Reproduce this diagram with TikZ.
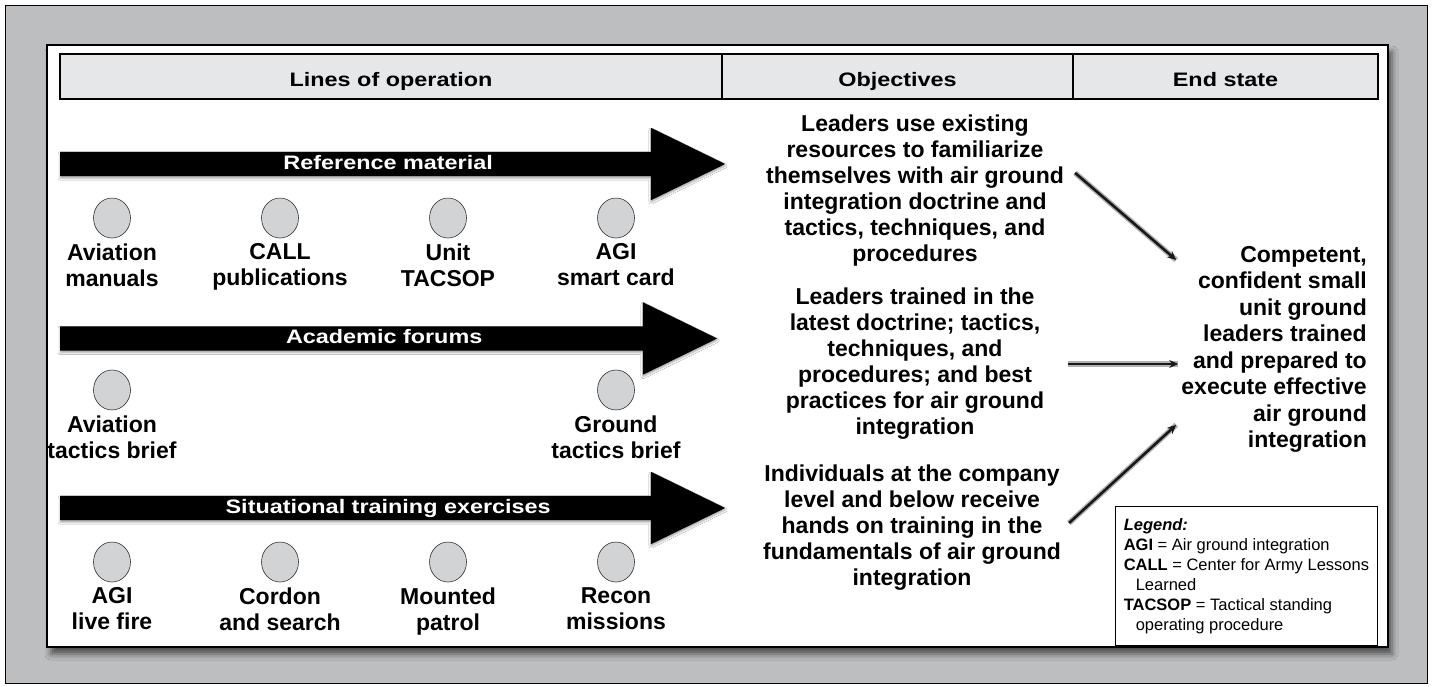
\documentclass[tikz,border=0pt]{standalone}
\usepackage{fontspec}
\setmainfont{Liberation Sans}
\newfontfamily\widefont[FakeStretch=1.2]{Liberation Sans}
\usetikzlibrary{positioning,shapes.geometric,shapes.arrows,shadows.blur,arrows.meta}
\definecolor{framegray}{HTML}{BCBEC0}
\definecolor{headgray}{HTML}{E6E7E8}
\definecolor{dotgray}{HTML}{D1D3D4}
\begin{document}
\begin{tikzpicture}[x=1pt,y=-1pt,
    headcell/.style={draw,line width=1.3pt,fill=headgray,outer sep=0pt,inner sep=0pt,
      minimum height=45pt,text height=20pt,text depth=0pt,
      font=\widefont\bfseries\fontsize{19.5}{22}\selectfont},
    lineop/.style={single arrow,fill=black,single arrow head extend=24pt,
      single arrow tip angle=52,minimum width=72pt,inner sep=0pt,anchor=tail,
      text height=17pt,text depth=7pt,text=white,
      blur shadow={shadow xshift=0pt,shadow yshift=-2pt,shadow blur radius=2pt,shadow opacity=35},
      font=\widefont\bfseries\fontsize{19.5}{22}\selectfont},
    topicdot/.style={ellipse,draw=black!80,line width=0.6pt,fill=dotgray,
      minimum width=37pt,minimum height=40pt,inner sep=0pt},
    dotlabel/.style={align=center,inner sep=0pt,font=\bfseries\fontsize{23}{26}\selectfont},
    objtext/.style={align=center,inner sep=0pt,font=\bfseries\fontsize{23}{26}\selectfont},
    leadto/.style={line width=2.6pt,draw=black!90,-{Stealth[length=9pt,width=8pt]},
      preaction={draw=black!30,line width=5.5pt,-}}
  ]
  \useasboundingbox (0,0) rectangle (1434,686);
  \fill[white] (0,0) rectangle (1434,686);
  \draw[fill=framegray,line width=1pt] (5.5,5.5) rectangle (1427.5,683.5);
  \draw[fill=white,line width=1.2pt,blur shadow={shadow xshift=4pt,shadow yshift=-7pt,
    shadow blur radius=6pt,shadow opacity=60}] (47,45) rectangle (1388,647);

  \node[headcell,minimum width=662pt] (hdlines) at (391,76.5) {Lines of operation};
  \node[headcell,minimum width=351pt,right=0pt of hdlines] (hdobj) {Objectives};
  \node[headcell,minimum width=305pt,right=0pt of hdobj] (hdend) {End state};

  \node[lineop,minimum height=665pt] (armref) at (60,164) {\hspace*{16pt}Reference material};
  \node[lineop,minimum height=657pt] (armacad) at (60,338.5) {\hspace*{16pt}Academic forums};
  \node[lineop,minimum height=665pt] (armste) at (60,508) {\hspace*{16pt}Situational training exercises};

  \node[topicdot] (avman) at (112,218) {};
  \node[topicdot] (callpub) at (280,218) {};
  \node[topicdot] (unittac) at (448,218) {};
  \node[topicdot] (agicard) at (616,218) {};
  \node[topicdot] (avbrief) at (112,390) {};
  \node[topicdot] (grbrief) at (616,390) {};
  \node[topicdot] (agifire) at (112,562) {};
  \node[topicdot] (cordon) at (280,562) {};
  \node[topicdot] (mounted) at (448,562) {};
  \node[topicdot] (recon) at (616,562) {};

  \node[dotlabel,below=5pt of avman] (avmanlbl) {Aviation\\manuals};
  \node[dotlabel,below=5pt of callpub] (callpublbl) {CALL\\publications};
  \node[dotlabel,below=5pt of unittac] (unittaclbl) {Unit\\TACSOP};
  \node[dotlabel,below=5pt of agicard] (agicardlbl) {AGI\\smart card};
  \node[dotlabel,below=5pt of avbrief] (avbrieflbl) {Aviation\\tactics brief};
  \node[dotlabel,below=5pt of grbrief] (grbrieflbl) {Ground\\tactics brief};
  \node[dotlabel,below=5pt of agifire] (agifirelbl) {AGI\\live fire};
  \node[dotlabel,below=5pt of cordon] (cordonlbl) {Cordon\\and search};
  \node[dotlabel,below=5pt of mounted] (mountedlbl) {Mounted\\patrol};
  \node[dotlabel,below=5pt of recon] (reconlbl) {Recon\\missions};

  \node[objtext,anchor=north] (objref) at (915,115) {Leaders use existing\\resources to familiarize\\themselves with air ground\\integration doctrine and\\tactics, techniques, and\\procedures};
  \node[objtext,anchor=north] (objacad) at (915,288) {Leaders trained in the\\latest doctrine; tactics,\\techniques, and\\procedures; and best\\practices for air ground\\integration};
  \node[objtext,anchor=north] (objste) at (912,465) {Individuals at the company\\level and below receive\\hands on training in the\\fundamentals of air ground\\integration};

  \node[objtext,align=right,anchor=north east,font=\bfseries\fontsize{23}{26.5}\selectfont] (endst) at (1367,246) {Competent,\\confident small\\unit ground\\leaders trained\\and prepared to\\execute effective\\air ground\\integration};

  \node[draw,line width=0.8pt,fill=white,anchor=north west,minimum width=262pt,minimum height=139pt,
    align=left,inner sep=0pt,font=\fontsize{16.5}{20}\selectfont] (legend) at (1115,506)
    {\textbf{\textit{Legend:}}\\\textbf{AGI} = Air ground integration\\\textbf{CALL} = Center for Army Lessons\\\hspace*{12pt}Learned\\\textbf{TACSOP} = Tactical standing\\\hspace*{12pt}operating procedure};

  \draw[leadto] ([shift={(11,-18)}]objref.east) -- ([shift={(-5,14)}]endst.north west);
  \draw[leadto] ([xshift=24pt]objacad.east) -- ([xshift=-3pt]endst.west |- objacad.east);
  \draw[leadto] ([shift={(8,-5)}]objste.east) -- ([shift={(-5,-28)}]endst.south west);
\end{tikzpicture}
\end{document}
